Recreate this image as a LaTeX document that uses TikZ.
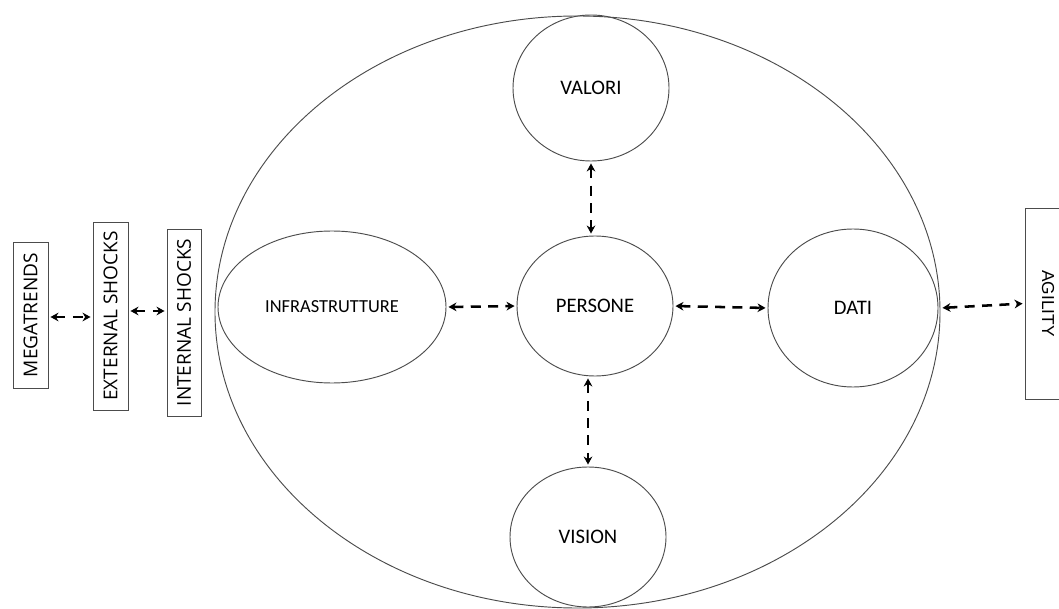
\documentclass[tikz,border=0pt]{standalone}
\usepackage{fontspec}
\usepackage{graphicx}
\setmainfont{Carlito}
\newfontfamily\boxfont{Open Sans}
\newfontfamily\agfont{Liberation Sans}
\usetikzlibrary{shapes.geometric,arrows.meta}

\tikzset{
  outline/.style={draw=black!70, line width=0.7pt},
  bubble/.style={outline, ellipse, inner sep=0pt, font=\fontsize{15.5}{18}\selectfont},
  sidebox/.style={outline, rectangle, inner sep=0pt, font=\boxfont\fontsize{14.3}{17}\selectfont},
  link/.style={line width=1.9pt, dash pattern=on 7.5pt off 5.5pt,
    {Stealth[length=6pt,width=6.5pt]}-{Stealth[length=6pt,width=6.5pt]},
    shorten <=1.5pt, shorten >=1.5pt}
}

\begin{document}
\begin{tikzpicture}[x=0.75pt,y=-0.75pt]
\useasboundingbox (0,0) rectangle (1059,609);

% outer organisation ellipse
\node[outline, ellipse, inner sep=0pt, minimum width=543.75pt, minimum height=444pt] (org) at (577.5,312) {};

% inner bubbles
\node[bubble, minimum width=117pt, minimum height=109.5pt] (valori) at (591,88) {VALORI};
\node[bubble, minimum width=117pt, minimum height=105pt] (persone) at (595,306) {PERSONE};
\node[bubble, minimum width=117pt, minimum height=105pt] (vision) at (588,537) {VISION};
\node[bubble, minimum width=171pt, minimum height=114pt, font=\fontsize{13.8}{16}\selectfont] (infra) at (332,307) {INFRASTRUTTURE};
\node[bubble, minimum width=127.5pt, minimum height=118.5pt] (dati) at (853,308) {DATI};

% side boxes
\node[sidebox, minimum width=26.25pt, minimum height=109.5pt] (mega) at (30.5,315) {\rotatebox{90}{MEGATRENDS}};
\node[sidebox, minimum width=26.25pt, minimum height=141pt] (ext) at (110.5,316) {\rotatebox{90}{EXTERNAL SHOCKS}};
\node[sidebox, minimum width=25.5pt, minimum height=140.25pt] (int) at (184,322.5) {\rotatebox{90}{INTERNAL SHOCKS}};
\node[outline, rectangle, inner sep=0pt, minimum width=34.5pt, minimum height=143.25pt,
      font=\agfont\fontsize{13}{15}\selectfont] (agility) at (1048,303.5) {\rotatebox{-90}{AGILITY}};

% dashed two-way connectors
\draw[link] ([yshift=-1.5pt]mega.east) -- ([yshift=-1.5pt]mega.east -| ext.west);
\draw[link] ([yshift=3.75pt]ext.east) -- ([yshift=3.75pt]ext.east -| int.west);
\draw[link] (infra.east) -- (persone.west);
\draw[link] (persone.east) -- (dati.west);
\draw[link] (valori.south) -- (valori.south |- persone.north);
\draw[link] (vision.north |- persone.south) -- (vision.north);
\draw[link] ([yshift=3pt]org.east) -- ([yshift=0pt]agility.west);
\end{tikzpicture}
\end{document}
